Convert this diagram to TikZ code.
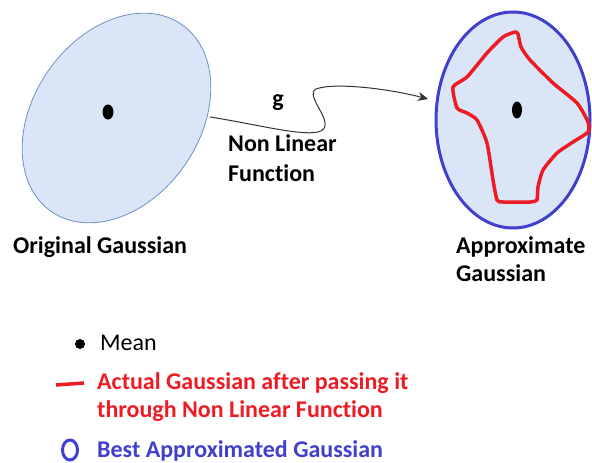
\documentclass[tikz,border=0pt]{standalone}
\usepackage{fontspec}
\setmainfont{Carlito}[Ligatures={NoCommon}]
\usetikzlibrary{shapes.geometric,arrows.meta}
\definecolor{gfill}{RGB}{218,230,248}
\definecolor{gedge}{RGB}{110,145,195}
\definecolor{bblue}{RGB}{64,64,204}
\definecolor{rred}{RGB}{237,28,36}
\begin{document}
\begin{tikzpicture}[x=1pt,y=-1pt,
  lbl/.style={font=\fontsize{24}{30}\selectfont\bfseries, text=black, inner sep=0, anchor=west, align=left},
  leg/.style={font=\fontsize{24}{28}\selectfont\bfseries, inner sep=0, anchor=west, align=left},
  meandot/.style={ellipse, fill=black, inner sep=0, minimum width=11pt, minimum height=15pt},
  gauss/.style={ellipse, fill=gfill, inner sep=0}]
\useasboundingbox (0,0) rectangle (592,463);
% original gaussian
\node[gauss, draw=gedge, line width=0.8pt, minimum width=166pt, minimum height=228pt, rotate=-35] (orig) at (116.5,118) {};
\node[meandot] (m1) at (108,112) {};
% approximate gaussian
\node[gauss, draw=bblue, line width=3pt, minimum width=154pt, minimum height=216pt] (approx) at (513,120) {};
\draw[rred, line width=3.5pt, line join=round] plot[smooth cycle, tension=0.35] coordinates {
 (515,32) (518,34) (521,47) (530,60) (553,83) (577,103) (588,122) (588,132) (573,142) (557,153) (543,170) (538,187) (537,200) (530,202) (503,202) (497,200) (493,180) (487,143) (477,120) (467,113) (457,108) (453,87) (467,77) (487,53) (503,37)};
\node[meandot, minimum width=10pt, minimum height=17pt] (m2) at (517,110) {};
% function arrow
\coordinate (gs) at (210,117);
\coordinate (ge) at (428,99);
\draw[line width=1pt, black!80, -{Stealth[length=10pt,width=9pt,inset=3pt]}]
  (gs) .. controls (255,124) and (300,136) .. (318,132)
  .. controls (340,126) and (303,96) .. (316,89)
  .. controls (335,82) and (390,89) .. (ge);
\node[lbl, anchor=center] (g) at (278,103) {g};
\node[lbl] (nl) at (228,158) {Non Linear\\Function};
\node[lbl] (og) at (13,247) {Original Gaussian};
\node[lbl, font=\fontsize{24}{28}\selectfont\bfseries] (ag) at (456,259) {Approximate\\Gaussian};
% legend
\node[circle, fill=black, inner sep=0, minimum size=10pt] (lm) at (80,344) {};
\node[leg, font=\fontsize{24}{28}\selectfont, text=black] (lmt) at (100,343) {Mean};
\coordinate (ra) at (56,385);
\coordinate (rb) at (84,383);
\draw[rred, line width=3.5pt] (ra) -- (rb);
\node[leg, text=rred] (lrt) at (97,397) {Actual Gaussian after passing it\\through Non Linear Function};
\node[ellipse, draw=bblue, line width=3pt, inner sep=0, minimum width=15pt, minimum height=20pt] (lb) at (70,450) {};
\node[leg, text=bblue] (lbt) at (97,451) {Best Approximated Gaussian};
\end{tikzpicture}
\end{document}
